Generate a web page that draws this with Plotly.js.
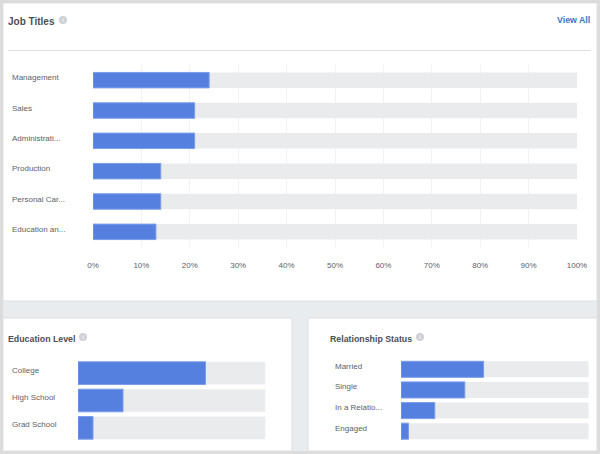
<!DOCTYPE html>
<html><head><meta charset="utf-8">
<script src="https://cdn.plot.ly/plotly-3.0.1.min.js"></script>
<style>html,body{margin:0;padding:0;background:#dcdcdc}#c{width:600px;height:454px}</style>
</head><body><div id="c"></div>
<script>
const jobCats = ["Management","Sales","Administrati...","Production","Personal Car...","Education an..."];
const jobVals = [24,21,21,14,14,13];
const eduCats = ["College","High School","Grad School"];
const eduVals = [68,24,8];
const relCats = ["Married","Single","In a Relatio...","Engaged"];
const relVals = [44,34,18,4];
const jobTicks = [0,10,20,30,40,50,60,70,80,90,100];
const W=600,H=454;
const BLUE="#5580e0",EDGE="#7c9eea",GREY="#e9ebed";
const TITLE="#4b4f56",LAB="#5d6168";
const FONT="Liberation Sans, Arial, sans-serif";

function px(a,b){return [a/W,b/W];}
function py(top,bottom){return [1-bottom/H,1-top/H];}
function pair(cats,vals,xa,ya,gap){
  const full=cats.map(()=>100);
  return [
    {type:"bar",orientation:"h",y:cats,x:full,xaxis:xa,yaxis:ya,width:1-gap,marker:{color:GREY,line:{width:0}},hoverinfo:"skip"},
    {type:"bar",orientation:"h",y:cats,x:vals,xaxis:xa,yaxis:ya,width:1-gap,marker:{color:BLUE,line:{color:EDGE,width:1}},hoverinfo:"skip"}
  ];
}
const data=[...pair(jobCats,jobVals,"x","y",0.49),...pair(eduCats,eduVals,"x2","y2",0.17),...pair(relCats,relVals,"x3","y3",0.22)];

function pr(type,x0,y0,x1,y1,fill,line){
  return {type,xref:"paper",yref:"paper",x0:x0/W,x1:x1/W,y0:1-y0/H,y1:1-y1/H,fillcolor:fill,
    line:line?{color:line,width:1}:{width:0},layer:"below"};
}
const shapes=[
  pr("rect",3,3,597,451,"#e9ecef"),
  pr("rect",3,3,597,301,"#ffffff","#dddfe2"),
  pr("rect",3,318,292,451,"#ffffff","#dddfe2"),
  pr("rect",308,318,597,451,"#ffffff","#dddfe2"),
  pr("line",8,50.5,591,50.5,null,"#dddfe2"),
  pr("circle",59,16,67,24,"#cfd1d5"),
  pr("circle",79,333,87,341,"#cfd1d5"),
  pr("circle",416,333,424,341,"#cfd1d5")
];
function txt(t,x,y,size,color,bold,anchor){
  return {text:bold?"<b>"+t+"</b>":t,xref:"paper",yref:"paper",x:x/W,y:1-y/H,xanchor:anchor||"left",yanchor:"middle",
    showarrow:false,font:{size,color,family:FONT},align:"left",borderpad:0};
}
function icon(x,y){
  return {text:"<i>i</i>",xref:"paper",yref:"paper",x:x/W,y:1-y/H,xanchor:"center",yanchor:"middle",showarrow:false,borderpad:0,
    font:{size:7,color:"#ffffff",family:"Liberation Serif"}};
}
function catLabels(cats,ya,x,dy){
  return cats.map(c=>({text:c,xref:"paper",yref:ya,x:x/W,y:c,yshift:dy,xanchor:"left",yanchor:"middle",showarrow:false,
    borderpad:0,font:{size:8,color:LAB,family:FONT}}));
}
const annotations=[
  txt("Job Titles",7,21,10,TITLE,true),
  txt("View All",591,20.5,8.8,"#3578c4",true,"right"),
  txt("Education Level",7,339,8.8,TITLE,true),
  txt("Relationship Status",329,339,8.8,TITLE,true),
  icon(63,20),icon(83,337),icon(420,337),
  ...catLabels(jobCats,"y",11,2.5),
  ...catLabels(eduCats,"y2",11,3),
  ...catLabels(relCats,"y3",333.5,3)
];
const hiddenX={range:[0,100],showgrid:false,zeroline:false,showticklabels:false,ticks:"",fixedrange:true};
const hiddenY={autorange:false,showgrid:false,zeroline:false,showticklabels:false,ticks:"",showline:false,fixedrange:true};
const layout={
  width:W,height:H,margin:{l:0,r:0,t:0,b:0,pad:0},paper_bgcolor:"#dcdcdc",plot_bgcolor:"rgba(0,0,0,0)",
  barmode:"overlay",showlegend:false,shapes,annotations,
  xaxis:{domain:px(93,577),range:[0,100],anchor:"y",tickmode:"array",tickvals:jobTicks,ticktext:jobTicks.map(t=>t+"%"),
    showgrid:true,gridcolor:"#f1f2f3",gridwidth:1,zeroline:false,ticks:"outside",ticklen:10,tickcolor:"rgba(0,0,0,0)",
    tickfont:{size:8,color:LAB,family:FONT},fixedrange:true},
  yaxis:{...hiddenY,domain:py(65,247),range:[5.5,-0.5],type:"category",categoryorder:"array",categoryarray:jobCats,anchor:"x"},
  xaxis2:{...hiddenX,domain:px(78,265.5),anchor:"y2"},
  yaxis2:{...hiddenY,domain:py(359.5,441.5),range:[2.5,-0.5],type:"category",categoryorder:"array",categoryarray:eduCats,anchor:"x2"},
  xaxis3:{...hiddenX,domain:px(401,588.7),anchor:"y3"},
  yaxis3:{...hiddenY,domain:py(359,441.5),range:[3.5,-0.5],type:"category",categoryorder:"array",categoryarray:relCats,anchor:"x3"}
};
Plotly.newPlot("c",data,layout,{displayModeBar:false,staticPlot:true});
</script></body></html>
